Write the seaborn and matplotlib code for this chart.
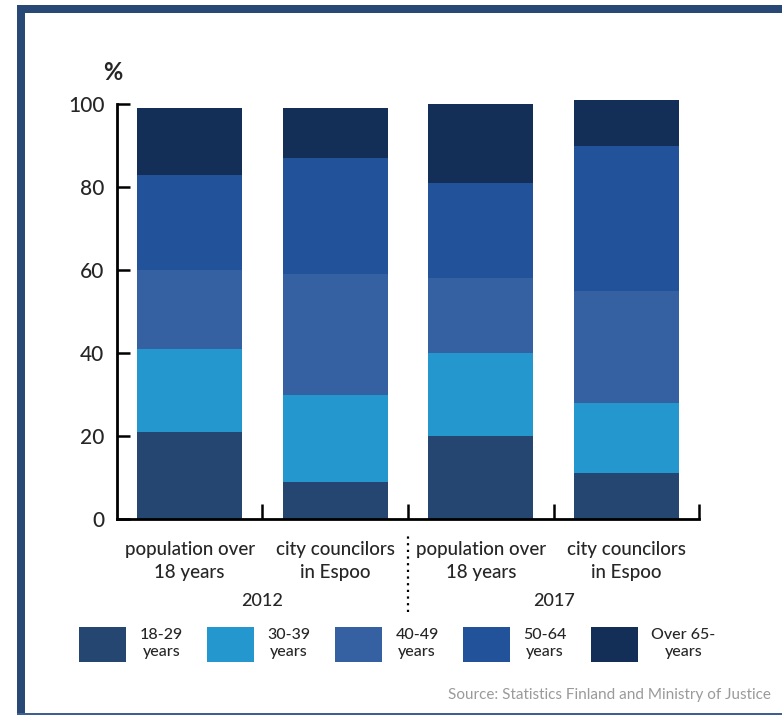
import matplotlib
matplotlib.use("Agg")
import matplotlib.pyplot as plt
from matplotlib.patches import Patch, Rectangle
import pandas as pd
import seaborn as sns

# bar groups (unique keys) and their display labels
groups = ["pop_2012", "coun_2012", "pop_2017", "coun_2017"]
group_labels = ["population over\n18 years", "city councilors\nin Espoo",
                "population over\n18 years", "city councilors\nin Espoo"]
years = ["2012", "2017"]

age_classes = ["18-29\nyears", "30-39\nyears", "40-49\nyears", "50-64\nyears", "Over 65-\nyears"]
age_colors = ["#244670", "#2597cf", "#3561a3", "#22539a", "#132e57"]

# shares (%) per age class, one value per bar
share_18_29 = [21, 9, 20, 11]
share_30_39 = [20, 21, 20, 17]
share_40_49 = [19, 29, 18, 27]
share_50_64 = [23, 28, 23, 35]
share_over65 = [16, 12, 19, 11]

yticks = [0, 20, 40, 60, 80, 100]

shares = [share_18_29, share_30_39, share_40_49, share_50_64, share_over65]
df = pd.DataFrame({"group": groups})
running = [0] * len(groups)
for name, vals in zip(age_classes, shares):
    running = [r + v for r, v in zip(running, vals)]
    df[name] = running

sns.set_style("white")
plt.rcParams["font.family"] = ["Lato", "DejaVu Sans"]
plt.rcParams["font.weight"] = "medium"

fig = plt.figure(figsize=(7.82, 7.15), dpi=100)
ax = fig.add_axes([0.1496, 0.2741, 0.7443, 0.5862])

# stacked bars: draw cumulative totals from the top class down
for name, col in reversed(list(zip(age_classes, age_colors))):
    sns.barplot(data=df, x="group", y=name, order=groups, color=col,
                saturation=1, width=0.72, errorbar=None, ax=ax, linewidth=0)

ax.set_xlim(-0.5, 3.5)
ax.set_ylim(0, 101)
ax.set_xlabel("")
ax.set_ylabel("")
ax.set_yticks(yticks)
ax.set_xticks(range(len(groups)))
ax.set_xticklabels(group_labels, fontsize=13.5, linespacing=1.4)
ax.set_xticks([0.5, 1.5, 2.5, 3.5], minor=True)

for s in ["top", "right"]:
    ax.spines[s].set_visible(False)
ax.spines["left"].set_bounds(0, 100)
ax.spines["left"].set_linewidth(2)
ax.spines["bottom"].set_linewidth(2)
ax.spines["left"].set_color("black")
ax.spines["bottom"].set_color("black")
ax.tick_params(axis="y", direction="in", length=9, width=1.8, pad=9,
               labelsize=15, left=True, color="black")
ax.tick_params(axis="x", which="major", length=0, pad=16)
ax.tick_params(axis="x", which="minor", direction="in", length=11, width=1.8,
               bottom=True, color="black")

# years under the category labels and the dotted separator
for i, yr in enumerate(years):
    ax.text(0.5 + 2 * i, -0.195, yr, transform=ax.get_xaxis_transform(),
            ha="center", va="center", fontsize=13)
ax.axvline(1.5, ymin=-0.222, ymax=-0.036, color="black", ls=(0, (1, 2)),
           lw=1.6, clip_on=False)

fig.text(113 / 782, 1 - 72 / 715, "%", ha="center", va="center",
         fontsize=17, fontweight="bold")

handles = [Patch(facecolor=c, edgecolor="none") for c in age_colors]
leg = fig.legend(handles, age_classes, loc="center left",
                 bbox_to_anchor=(0.101, 0.099), ncol=5, frameon=False,
                 fontsize=11.5, handlelength=2.95, handleheight=3.0,
                 handletextpad=0.85, columnspacing=1.5, borderpad=0,
                 borderaxespad=0)
for t in leg.get_texts():
    t.set_multialignment("center")
    t.set_linespacing(1.3)

fig.text(771 / 782, 1 - 695 / 715,
         "Source: Statistics Finland and Ministry of Justice",
         ha="right", va="center", fontsize=11, color="#9a9a9a",
         fontweight="normal")

# frame
frame_col = "#284876"
fig.add_artist(Rectangle((17 / 782, 1 - 12.5 / 715), 1, 7.5 / 715,
                         transform=fig.transFigure, color=frame_col, lw=0))
fig.add_artist(Rectangle((17 / 782, 1 - 713 / 715), 8 / 782, 708 / 715,
                         transform=fig.transFigure, color=frame_col, lw=0))
fig.add_artist(Rectangle((17 / 782, 0), 1, 2.5 / 715,
                         transform=fig.transFigure, color="#3e5f92", lw=0))

fig.savefig("out.png", dpi=100)
